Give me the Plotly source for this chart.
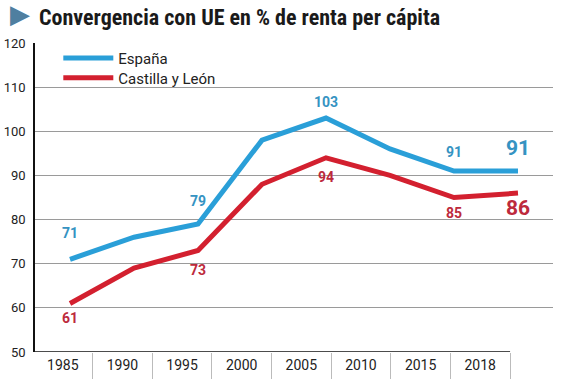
import plotly.graph_objects as go

years = ["1985", "1990", "1995", "2000", "2005", "2010", "2015", "2018"]
espana = [71, 76, 79, 98, 103, 96, 91, 91]
cyl = [61, 69, 73, 88, 94, 90, 85, 86]
series_names = ["España", "Castilla y León"]
title = "Convergencia con UE en % de renta per cápita"

# labelled points (index) and vertical offset of each label in px
esp_labels = {0: 26, 2: 23, 4: 16, 6: 19}
cyl_labels = {0: -15, 2: -20, 4: -19, 6: -15}

BLUE = "#2a9fd8"
RED = "#d3202f"
BLUE_T = "#3593c2"
RED_T = "#bd2a3c"
FONT = "Roboto, 'Noto Sans', sans-serif"

fig = go.Figure()
# invisible trace that defines the category labels of the bottom axis
fig.add_trace(go.Scatter(x=years, y=espana, mode="markers", marker=dict(opacity=0),
                         showlegend=False, hoverinfo="skip", xaxis="x", yaxis="y"))
fig.add_trace(go.Scatter(x=years, y=espana, mode="lines", name=series_names[0],
                         line=dict(color=BLUE, width=5), xaxis="x2", yaxis="y", legend="legend"))
fig.add_trace(go.Scatter(x=years, y=cyl, mode="lines", name=series_names[1],
                         line=dict(color=RED, width=5), xaxis="x2", yaxis="y", legend="legend2"))

ann = []
for i, dy in esp_labels.items():
    ann.append(dict(xref="x2", yref="y", x=i, y=espana[i], text=str(espana[i]), showarrow=False,
                    yshift=dy, font=dict(size=14, color=BLUE_T, family=FONT, weight="bold")))
for i, dy in cyl_labels.items():
    ann.append(dict(xref="x2", yref="y", x=i, y=cyl[i], text=str(cyl[i]), showarrow=False,
                    yshift=dy, font=dict(size=14, color=RED_T, family=FONT, weight="bold")))
# final large values
last = len(years) - 1
ann.append(dict(xref="x2", yref="y", x=last, y=espana[-1], text=str(espana[-1]), showarrow=False,
                yshift=23, font=dict(size=21, color=BLUE_T, family=FONT, weight="bold")))
ann.append(dict(xref="x2", yref="y", x=last, y=cyl[-1], text=str(cyl[-1]), showarrow=False,
                yshift=-15, font=dict(size=21, color=RED_T, family=FONT, weight="bold")))
# title
ann.append(dict(xref="paper", yref="paper", x=-0.052, y=1.0, yshift=29, xanchor="left", yanchor="middle",
                text="▶", showarrow=False, font=dict(size=26, color="#4f7fa0", family="DejaVu Sans")))
ann.append(dict(xref="paper", yref="paper", x=0.004, y=1.0, yshift=26, xanchor="left", yanchor="middle",
                text="<b>" + title + "</b>", showarrow=False,
                font=dict(size=22, color="#1a1a1a", family="'Roboto Condensed', 'Liberation Sans Narrow', Roboto, sans-serif")))

legend_style = dict(xanchor="left", yanchor="middle", bgcolor="rgba(0,0,0,0)",
                    font=dict(size=15, color="#222", family=FONT), itemwidth=50)

fig.update_layout(
    width=566, height=384,
    margin=dict(l=35, r=13, t=43, b=32, autoexpand=False),
    plot_bgcolor="white", paper_bgcolor="white",
    font=dict(family=FONT, size=13, color="#222"),
    showlegend=True,
    legend=dict(x=0.045, y=0.951, **legend_style),
    legend2=dict(x=0.045, y=0.887, **legend_style),
    annotations=ann,
    xaxis=dict(type="category", range=[-0.466, 8.22], showgrid=False, showline=False,
               tickson="boundaries", ticks="outside", ticklen=26, tickcolor="#bbbbbb",
               tickfont=dict(size=14, color="#222"), ticklabelstandoff=3,
               fixedrange=True, automargin=False),
    xaxis2=dict(type="category", overlaying="x", anchor="y", range=[-0.547, 7.547],
                visible=False, automargin=False),
    yaxis=dict(range=[50, 120], dtick=10, showgrid=True, gridcolor="#9a9a9a", gridwidth=1,
               showline=True, linecolor="#111", linewidth=1.5, ticks="", zeroline=False,
               tickfont=dict(size=13, color="#222"), ticklabelstandoff=5, automargin=False),
    shapes=[dict(type="line", xref="x", yref="y", x0=-0.466, x1=7.5, y0=50, y1=50,
                 line=dict(color="#111", width=1.5))],
)

fig.write_html("out.html", config={"displayModeBar": False},
               post_script="document.body.style.margin='0px';")
